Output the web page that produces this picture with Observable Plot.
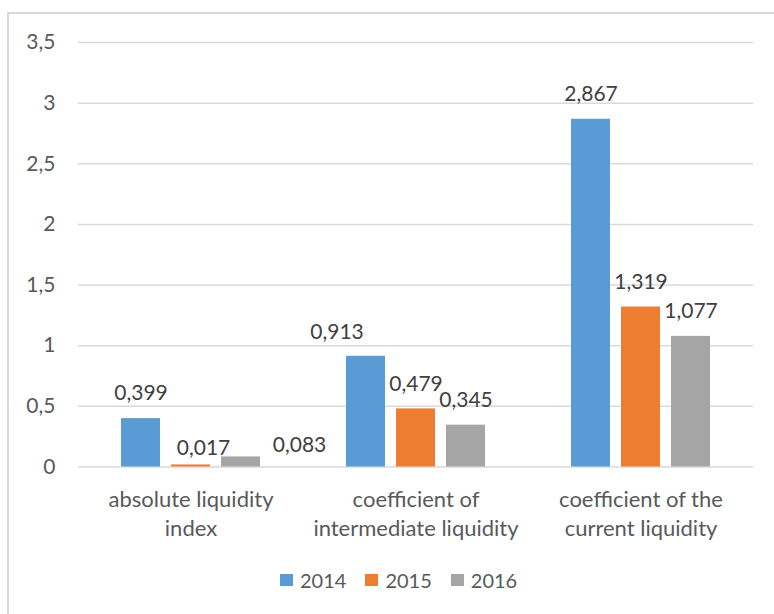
<!DOCTYPE html>
<html>
<head>
<meta charset="utf-8">
<script src="https://cdn.jsdelivr.net/npm/d3@7"></script>
<script src="https://cdn.jsdelivr.net/npm/@observablehq/plot@0.6"></script>
<style>
  html, body { margin: 0; padding: 0; background: #fff; overflow: hidden; }
  body { width: 774px; height: 614px; position: relative; font-family: Lato, "Open Sans", sans-serif; }
  #frame { position: absolute; left: 7px; top: 12px; width: 1000px; height: 1000px;
           border-left: 2px solid #d9d9d9; border-top: 2px solid #d9d9d9; pointer-events: none; }
  #chart { position: absolute; left: 0; top: 0; }
  #legend { position: absolute; left: 280px; top: 568px; height: 24px; display: flex; align-items: center;
            font-size: 20px; color: #595959; line-height: 24px; }
  #legend .item { display: flex; align-items: center; margin-right: 19px; }
  #legend .sw { width: 13px; height: 12px; margin-right: 7px; }
</style>
</head>
<body>
<div id="frame"></div>
<div id="chart"></div>
<div id="legend"></div>
<script>
// Liquidity ratios by year
const categories = [
  "absolute liquidity\nindex",
  "coefficient of\nintermediate liquidity",
  "coefficient of the\ncurrent liquidity"
];
const years = ["2014", "2015", "2016"];
const values2014 = [0.399, 0.913, 2.867];
const values2015 = [0.017, 0.479, 1.319];
const values2016 = [0.083, 0.345, 1.077];
const yTicks = [0, 0.5, 1, 1.5, 2, 2.5, 3, 3.5];
const colors = ["#5B9BD5", "#ED7D31", "#A5A5A5"];

const series = [values2014, values2015, values2016];
const rows = categories.flatMap((category, i) =>
  years.map((year, j) => ({category, year, value: series[j][i]}))
);

// decimal comma
const fmt = v => String(v).replace(".", ",");

// a few data labels are nudged off their default spot above the bar
const nudges = [
  {category: categories[0], year: "2015", dx: 12.5, dy: -16.5},
  {category: categories[0], year: "2016", dx: 58.5, dy: -11.5},
  {category: categories[1], year: "2014", dx: -29, dy: -24}
];
const isNudged = d => nudges.some(n => n.category === d.category && n.year === d.year);

const labelMarks = [
  Plot.text(rows.filter(d => !isNudged(d)), {
    fx: "category", x: "year", y: "value", text: d => fmt(d.value),
    dy: -25, fill: "#404040", fontSize: 21
  }),
  ...nudges.map(n => Plot.text(rows.filter(d => d.category === n.category && d.year === n.year), {
    fx: "category", x: "year", y: "value", text: d => fmt(d.value),
    dx: n.dx, dy: n.dy, fill: "#404040", fontSize: 21
  }))
];

const chart = Plot.plot({
  width: 774,
  height: 550,
  marginLeft: 78,
  marginRight: 21,
  marginTop: 42,
  marginBottom: 83.5,
  style: {fontFamily: "Lato, 'Open Sans', sans-serif", fontSize: "21px", color: "#595959", background: "transparent", overflow: "visible"},
  fx: {domain: categories, padding: 0, axis: null},
  x: {domain: years, paddingInner: 0.22, paddingOuter: 0.86, axis: null},
  y: {domain: [0, 3.5], label: null},
  color: {domain: years, range: colors},
  marks: [
    Plot.ruleY(yTicks, {stroke: "#d9d9d9", strokeWidth: 1.5}),
    Plot.axisY(yTicks, {tickSize: 0, tickPadding: 23, tickFormat: fmt, fontSize: 21, fill: "#595959", label: null}),
    Plot.barY(rows, {fx: "category", x: "year", y: "value", fill: "year"}),
    ...labelMarks,
    Plot.text(categories, {
      fx: d => d, text: d => d, frameAnchor: "bottom", dy: 45.5,
      lineAnchor: "middle", lineHeight: 1.3, fill: "#595959", fontSize: 22
    })
  ]
});
document.getElementById("chart").appendChild(chart);

// legend
const legend = d3.select("#legend");
years.forEach((y, i) => {
  const item = legend.append("div").attr("class", "item");
  item.append("div").attr("class", "sw").style("background", colors[i]);
  item.append("span").text(y);
});
</script>
</body>
</html>
